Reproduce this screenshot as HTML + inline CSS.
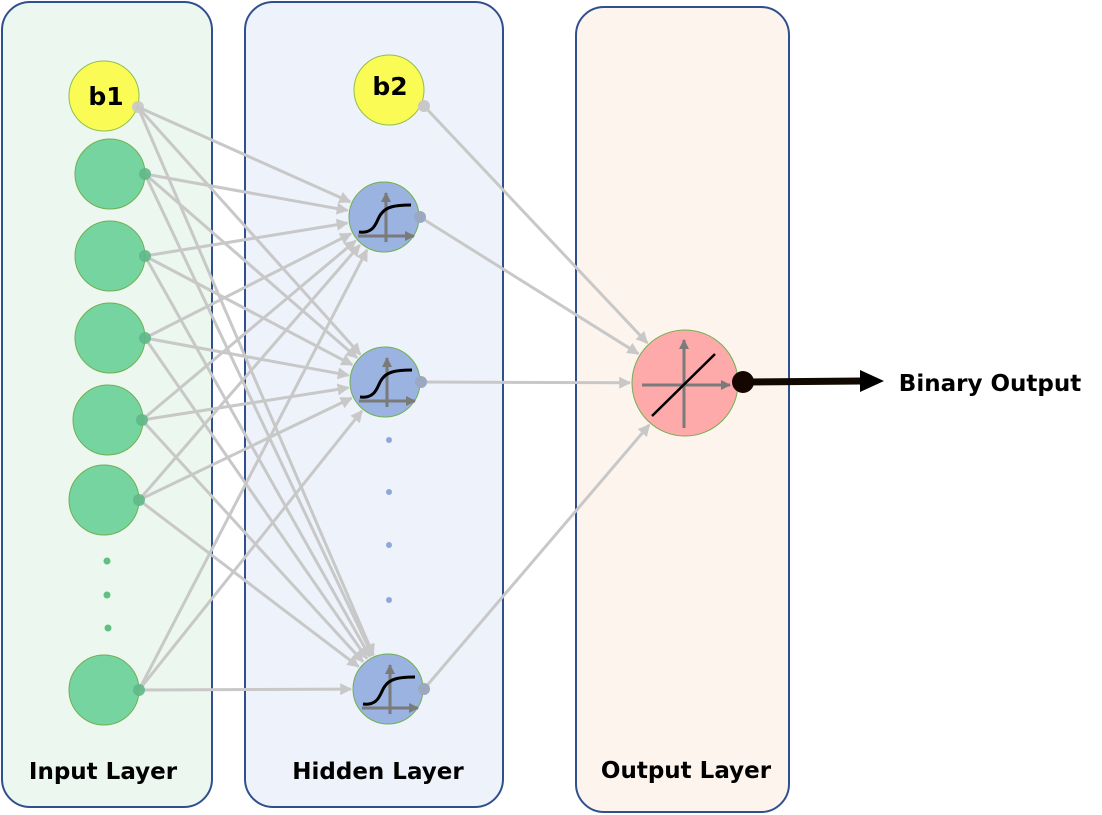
<!DOCTYPE html>
<html><head><meta charset="utf-8"><style>
body{margin:0;background:#fff;}
svg{display:block;font-family:"DejaVu Sans","Liberation Sans",sans-serif;}
</style></head><body>
<svg id="s" width="1102" height="815" viewBox="0 0 1102 815" xmlns="http://www.w3.org/2000/svg">
<defs>
<marker id="ag" viewBox="0 0 10 10" refX="9" refY="5" markerWidth="14" markerHeight="12" orient="auto" markerUnits="userSpaceOnUse"><path d="M0,0 L10,5 L0,10z" fill="#c8c8c8"/></marker>
<marker id="ax" viewBox="0 0 10 10" refX="9" refY="5" markerWidth="10" markerHeight="10" orient="auto" markerUnits="userSpaceOnUse"><path d="M0,0 L10,5 L0,10z" fill="#7a7a7a"/></marker>
</defs>
<rect x="2" y="2" width="210" height="805" rx="28" fill="#ebf7ef" stroke="#2f4f8f" stroke-width="2"/>
<rect x="245" y="2" width="258" height="805" rx="28" fill="#eef2fa" stroke="#2f4f8f" stroke-width="2"/>
<rect x="576" y="7" width="213" height="805" rx="28" fill="#fdf4ee" stroke="#2f4f8f" stroke-width="2"/>
<g id="edges" stroke="#c8c8c8" stroke-width="3" fill="none"></g>
<g id="nodes"></g>
<text x="103" y="779" font-size="23" font-weight="bold" text-anchor="middle">Input Layer</text>
<text x="378" y="779" font-size="23" font-weight="bold" text-anchor="middle">Hidden Layer</text>
<text x="686" y="778" font-size="23" font-weight="bold" text-anchor="middle">Output Layer</text>
<text x="990" y="391" font-size="23" font-weight="bold" text-anchor="middle">Binary Output</text>
<line x1="743" y1="382" x2="862" y2="381" stroke="#110800" stroke-width="7"/>
<path d="M860,370 L884,381 L860,392z" fill="#000"/>
<circle cx="743" cy="382" r="11" fill="#150700"/>
</svg>
<script>
var NS="http://www.w3.org/2000/svg";
function el(p,t,a){var e=document.createElementNS(NS,t);for(var k in a)e.setAttribute(k,a[k]);p.appendChild(e);return e;}
var E=document.getElementById("edges"),N=document.getElementById("nodes");
var ins=[[104,96,138,107,"b"],[110,174,145,174],[110,256,145,256],[110,338,145,338],[108,420,142,420],[104,500,139,500],[104,690,139,690]];
var hid=[[384,217],[385,382],[388,689]];
var out=[685,383,53];
function arrow(x1,y1,cx,cy,r){var dx=cx-x1,dy=cy-y1,d=Math.hypot(dx,dy);var x2=cx-dx/d*(r+2),y2=cy-dy/d*(r+2);el(E,"line",{x1:x1,y1:y1,x2:x2,y2:y2,"marker-end":"url(#ag)"});}
ins.forEach(function(n){hid.forEach(function(h){arrow(n[2],n[3],h[0],h[1],35);});});
hid.forEach(function(h){arrow(h[0]+36,h[1],out[0],out[1],out[2]);});
arrow(424,106,out[0],out[1],out[2]);
ins.forEach(function(n,i){
 if(i==0){el(N,"circle",{cx:n[0],cy:n[1],r:35,fill:"#fbfb55",stroke:"#8fbf50","stroke-width":1});}
 else el(N,"circle",{cx:n[0],cy:n[1],r:35,fill:"#76d4a0",stroke:"#70b050","stroke-width":1});
 el(N,"circle",{cx:n[2],cy:n[3],r:6,fill:i==0?"#c8c8c8":"#5fb888",opacity:0.9});
});
var b1=el(N,"text",{x:106,y:98,"font-size":25,"font-weight":"bold","text-anchor":"middle","dominant-baseline":"middle"});b1.textContent="b1";
[[107,561],[107,595],[108,628]].forEach(function(p){el(N,"circle",{cx:p[0],cy:p[1],r:3.5,fill:"#5fc080"});});
el(N,"circle",{cx:389,cy:90,r:35,fill:"#fbfb55",stroke:"#8fbf50","stroke-width":1});
el(N,"circle",{cx:424,cy:106,r:6,fill:"#c8c8c8"});
var b2=el(N,"text",{x:390,y:88,"font-size":25,"font-weight":"bold","text-anchor":"middle","dominant-baseline":"middle"});b2.textContent="b2";
hid.forEach(function(h){var x=h[0],y=h[1];
 el(N,"circle",{cx:x,cy:y,r:35,fill:"#9bb3e0",stroke:"#70b050","stroke-width":1});
 el(N,"line",{x1:x+2,y1:y+25,x2:x+2,y2:y-24,stroke:"#7a7a7a","stroke-width":3,"marker-end":"url(#ax)"});
 el(N,"line",{x1:x-26,y1:y+19,x2:x+30,y2:y+19,stroke:"#7a7a7a","stroke-width":3,"marker-end":"url(#ax)"});
 el(N,"path",{d:"M"+(x-25)+","+(y+15)+" C"+(x-8)+","+(y+17)+" "+(x-8)+","+(y+3)+" "+(x-3)+","+(y-3)+" C"+(x+2)+","+(y-10)+" "+(x+10)+","+(y-12)+" "+(x+27)+","+(y-12),fill:"none",stroke:"#000","stroke-width":3});
 el(N,"circle",{cx:x+36,cy:y,r:6,fill:"#9aa8c0"});
});
[440,492,545,600].forEach(function(y){el(N,"circle",{cx:389,cy:y,r:3,fill:"#8fa8dc"});});
el(N,"circle",{cx:685,cy:383,r:53,fill:"#ffaaaa",stroke:"#70b050","stroke-width":1});
el(N,"line",{x1:684,y1:428,x2:684,y2:340,stroke:"#7a7a7a","stroke-width":3,"marker-end":"url(#ax)"});
el(N,"line",{x1:642,y1:385,x2:730,y2:385,stroke:"#7a7a7a","stroke-width":3,"marker-end":"url(#ax)"});
el(N,"line",{x1:652,y1:416,x2:715,y2:354,stroke:"#000","stroke-width":2.5});
</script>
</body></html>
